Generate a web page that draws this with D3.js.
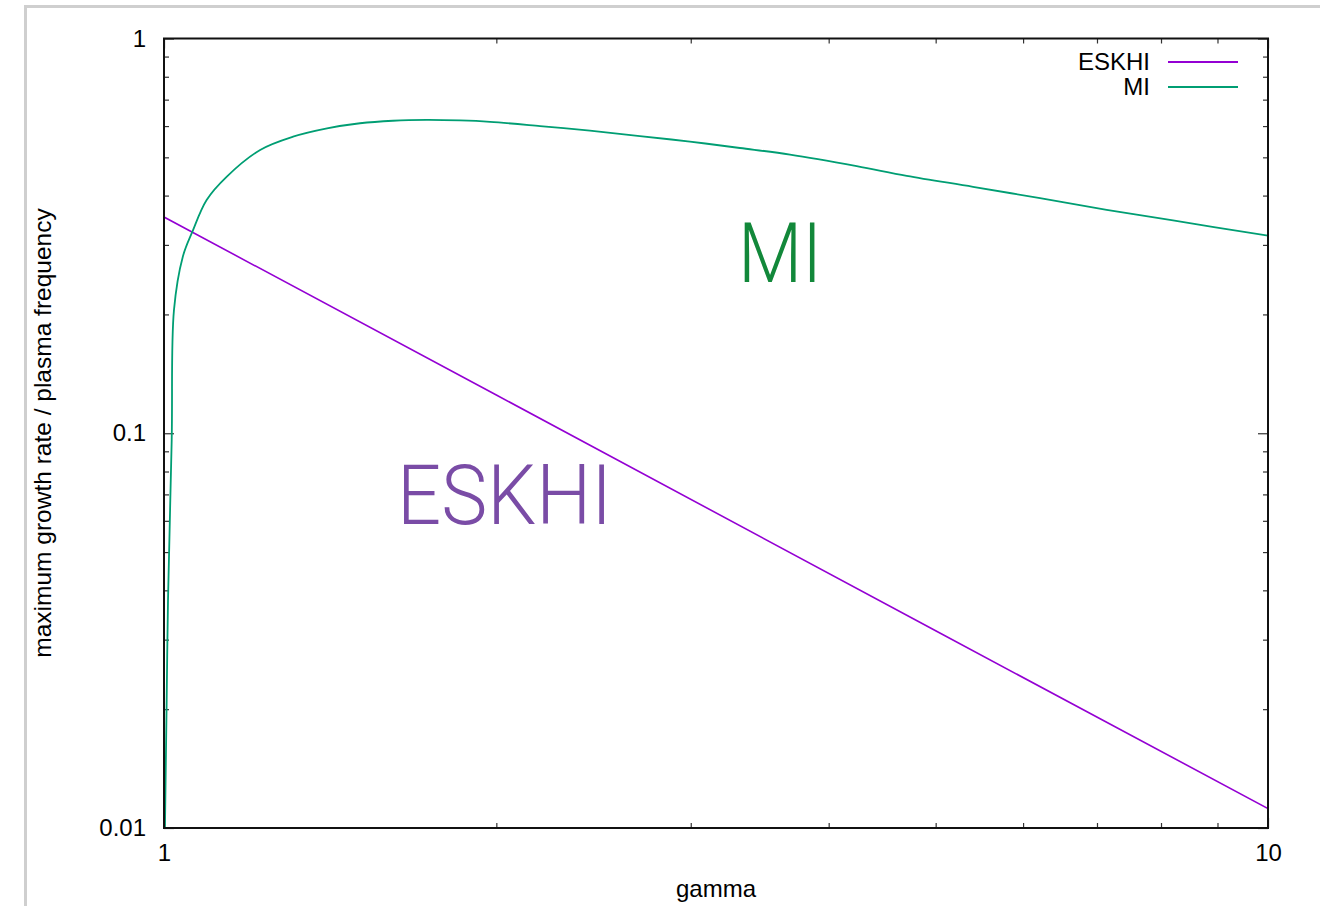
<!DOCTYPE html>
<html>
<head>
<meta charset="utf-8">
<script src="https://cdn.jsdelivr.net/npm/d3@7/dist/d3.min.js"></script>
<style>
body { margin: 0; background: #fff; }
text { font-family: "Liberation Sans", Arial, Helvetica, sans-serif; fill: #000; }
</style>
</head>
<body>
<div id="chart"></div>
<script>

// MI curve (gamma, rate)
var gammaMI = [1.002, 1.0056, 1.0084, 1.0162, 1.021, 1.040, 1.061, 1.093, 1.140, 1.222, 1.309, 1.405, 1.505, 1.612, 1.729, 1.854, 1.974, 2.191, 2.431, 2.698, 2.995, 3.324, 3.690, 4.241, 4.707, 5.405, 6.216, 7.143, 8.203, 10];
var rateMI  = [0.010, 0.0211, 0.0378, 0.0961, 0.205, 0.280, 0.324, 0.390, 0.447, 0.522, 0.564, 0.592, 0.610, 0.619, 0.622, 0.620, 0.615, 0.600, 0.584, 0.566, 0.548, 0.528, 0.508, 0.475, 0.449, 0.421, 0.394, 0.368, 0.346, 0.3165];

// ESKHI (straight line on log-log)
var gammaESKHI = [1, 2, 5, 10];
var rateESKHI  = [0.353, 0.125, 0.0316, 0.0112];

var xMajor = [1, 10];
var xMinor = [2, 3, 4, 5, 6, 7, 8, 9];
var yMajor = [0.01, 0.1, 1];
var yMinor = [0.02, 0.03, 0.04, 0.05, 0.06, 0.07, 0.08, 0.09, 0.2, 0.3, 0.4, 0.5, 0.6, 0.7, 0.8, 0.9];
var yLabels = ["0.01", "0.1", "1"];

var seriesNames = ["ESKHI", "MI"];
var seriesColors = ["#9400d3", "#009e73"];

var w = 1320, h = 906;
var plotLeft = 164, plotRight = 1268, plotTop = 38.5, plotBottom = 828;
var fontSize = "24px";

var xScale = d3.scaleLog().domain([1, 10]).range([plotLeft, plotRight]);
var yScale = d3.scaleLog().domain([0.01, 1]).range([plotBottom, plotTop]);

var svg = d3.select("#chart")
	.append("svg")
	.attr("width", w)
	.attr("height", h);

// grey window edge of the screenshot
svg.append("path")
	.attr("d", "M25.5," + h + " V6.5 H" + w)
	.attr("fill", "none")
	.attr("stroke", "#cfcfcf")
	.attr("stroke-width", 3);

function addAxis(axis, tx, ty) {
	var g = svg.append("g")
		.attr("transform", "translate(" + tx + "," + ty + ")")
		.call(axis);
	g.select(".domain").remove();
	g.selectAll(".tick line").attr("stroke", "#333").attr("stroke-width", 1.2);
	g.selectAll(".tick text")
		.style("font-family", "'Liberation Sans', Arial, sans-serif")
		.style("font-size", fontSize)
		.attr("fill", "#000");
	return g;
}

//Minor ticks, all four sides, pointing inward
addAxis(d3.axisBottom(xScale).tickValues(xMinor).tickSize(-5).tickFormat(""), 0, plotBottom);
addAxis(d3.axisTop(xScale).tickValues(xMinor).tickSize(-5).tickFormat(""), 0, plotTop);
addAxis(d3.axisLeft(yScale).tickValues(yMinor).tickSize(-5).tickFormat(""), plotLeft, 0);
addAxis(d3.axisRight(yScale).tickValues(yMinor).tickSize(-5).tickFormat(""), plotRight, 0);

//Major ticks with labels
addAxis(d3.axisBottom(xScale).tickValues(xMajor).tickSize(-10).tickPadding(16)
	.tickFormat(d3.format("d")), 0, plotBottom);
addAxis(d3.axisTop(xScale).tickValues(xMajor).tickSize(-10).tickFormat(""), 0, plotTop);
addAxis(d3.axisLeft(yScale).tickValues(yMajor).tickSize(-10).tickPadding(18)
	.tickFormat(function(d, i) { return yLabels[i]; }), plotLeft, 0);
addAxis(d3.axisRight(yScale).tickValues(yMajor).tickSize(-10).tickFormat(""), plotRight, 0);

// clip for the curves
svg.append("clipPath").attr("id", "plotClip")
	.append("rect")
	.attr("x", plotLeft).attr("y", plotTop)
	.attr("width", plotRight - plotLeft).attr("height", plotBottom - plotTop);

var line = d3.line()
	.x(function(d) { return xScale(d[0]); })
	.y(function(d) { return yScale(d[1]); })
	.curve(d3.curveCatmullRom.alpha(0.5));

var straight = d3.line()
	.x(function(d) { return xScale(d[0]); })
	.y(function(d) { return yScale(d[1]); });

var eskhi = gammaESKHI.map(function(g, i) { return [g, rateESKHI[i]]; });
var mi = gammaMI.map(function(g, i) { return [g, rateMI[i]]; });

svg.append("path")
	.datum(eskhi)
	.attr("clip-path", "url(#plotClip)")
	.attr("d", straight)
	.attr("fill", "none")
	.attr("stroke", seriesColors[0])
	.attr("stroke-width", 1.6);

svg.append("path")
	.datum(mi)
	.attr("clip-path", "url(#plotClip)")
	.attr("d", line)
	.attr("fill", "none")
	.attr("stroke", seriesColors[1])
	.attr("stroke-width", 1.8);

// frame
svg.append("rect")
	.attr("x", plotLeft).attr("y", plotTop)
	.attr("width", plotRight - plotLeft).attr("height", plotBottom - plotTop)
	.attr("fill", "none")
	.attr("stroke", "#111")
	.attr("stroke-width", 2);

// Legend
seriesNames.forEach(function(name, i) {
	var ly = 62 + i * 25;
	svg.append("text")
		.attr("x", 1150)
		.attr("y", ly)
		.attr("dy", "0.35em")
		.attr("text-anchor", "end")
		.style("font-size", fontSize)
		.text(name);
	svg.append("line")
		.attr("x1", 1168).attr("x2", 1238)
		.attr("y1", ly).attr("y2", ly)
		.attr("stroke", seriesColors[i])
		.attr("stroke-width", 1.8);
});

// Axis titles
svg.append("text")
	.attr("text-anchor", "middle")
	.attr("x", 716)
	.attr("y", 897)
	.style("font-size", fontSize)
	.text("gamma");

svg.append("text")
	.attr("text-anchor", "middle")
	.attr("transform", "rotate(-90)")
	.attr("x", -433)
	.attr("y", 51)
	.style("font-size", "24.5px")
	.text("maximum growth rate / plasma frequency");

// big annotations
svg.append("text")
	.attr("x", 738)
	.attr("y", 282)
	.attr("textLength", 84)
	.attr("lengthAdjust", "spacingAndGlyphs")
	.style("font-family", "Roboto, 'Liberation Sans', sans-serif")
	.style("font-weight", 300)
	.style("font-size", "83px")
	.style("fill", "#12883a")
	.text("MI");

svg.append("text")
	.attr("x", 397)
	.attr("y", 524)
	.attr("textLength", 215)
	.attr("lengthAdjust", "spacingAndGlyphs")
	.style("font-family", "Roboto, 'Liberation Sans', sans-serif")
	.style("font-weight", 300)
	.style("font-size", "83px")
	.style("fill", "#7a4ca6")
	.text("ESKHI");

</script>
</body>
</html>
